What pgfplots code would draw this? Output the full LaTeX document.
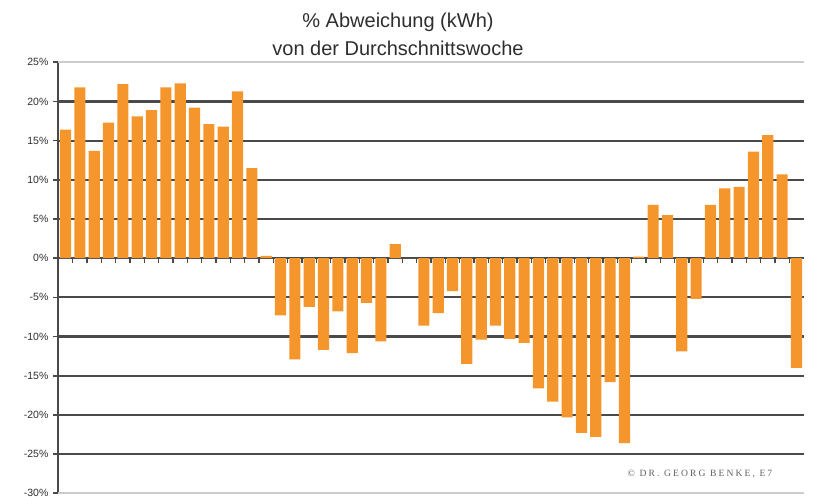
\documentclass[border=0pt]{standalone}
\usepackage{pgfplots}
\pgfplotsset{compat=1.18}
\usepackage{fontspec}
\setmainfont{Liberation Sans}
\newfontfamily\copyfont{Liberation Serif}[LetterSpace=22]
\definecolor{barorange}{HTML}{F4962B}
\definecolor{gridc}{HTML}{4A4A4A}
\definecolor{txt}{HTML}{2E2E2E}
\begin{document}
\begin{tikzpicture}[x=1pt,y=1pt]
\begin{axis}[
  at={(58.4pt,3.7pt)}, anchor=south west,
  scale only axis, width=745.2pt, height=431pt,
  xmin=0.5, xmax=52.5, ymin=-30, ymax=25,
  axis x line*=middle, axis y line*=left,
  x axis line style={draw=gridc, line width=2.2pt},
  y axis line style={draw=gridc, line width=2pt},
  xtick={1.5,2.5,...,51.5}, xticklabel=\empty,
  ytick={-25,-20,-15,-10,-5,0,5,10,15,20},
  yticklabels={-25\%,-20\%,-15\%,-10\%,-5\%,0\%,5\%,10\%,15\%,20\%},
  extra y ticks={-30,25},
  extra y tick labels={-30\%,25\%},
  extra y tick style={grid style={draw=black!20, line width=2.4pt}},
  tick align=outside,
  major tick length=5pt,
  xtick style={draw=gridc, line width=1.2pt},
  ytick style={draw=gridc, line width=1.6pt},
  ymajorgrids,
  grid style={draw=gridc, line width=2.2pt},
  yticklabel style={font=\fontsize{10.5}{12}\selectfont, text=txt, xshift=-1.5pt},
  ybar, bar width=0.78,
  clip=false,
]
\addplot[fill=barorange, draw=none] coordinates {
(1,16.4) (2,21.8) (3,13.7) (4,17.3) (5,22.2) (6,18.1) (7,18.9) (8,21.8)
(9,22.3) (10,19.2) (11,17.1) (12,16.8) (13,21.3) (14,11.5) (15,0.3)
(16,-7.3) (17,-12.9) (18,-6.2) (19,-11.7) (20,-6.8) (21,-12.1) (22,-5.7)
(23,-10.6) (24,1.8) (25,0) (26,-8.6) (27,-7.0) (28,-4.2) (29,-13.5)
(30,-10.4) (31,-8.6) (32,-10.3) (33,-10.8) (34,-16.6) (35,-18.3)
(36,-20.3) (37,-22.3) (38,-22.8) (39,-15.8) (40,-23.6) (41,0.2)
(42,6.8) (43,5.5) (44,-11.9) (45,-5.2) (46,6.8) (47,8.9) (48,9.1)
(49,13.6) (50,15.7) (51,10.7) (52,-14.0)
};
\end{axis}
\node[anchor=base, text=txt, font=\fontsize{20}{24}\selectfont, inner sep=0pt] at (398,469) {\% Abweichung (kWh)};
\node[anchor=base, text=txt, font=\fontsize{20}{24}\selectfont, inner sep=0pt] at (398,441.5) {von der Durchschnittswoche};
\node[anchor=base, text=black!62, font=\copyfont\fontsize{9.6}{11}\selectfont, inner sep=0pt] at (700,20) {© DR. GEORG BENKE, E7};
\pgfresetboundingbox
\path[use as bounding box] (0,0) rectangle (816,497);
\end{tikzpicture}
\end{document}
